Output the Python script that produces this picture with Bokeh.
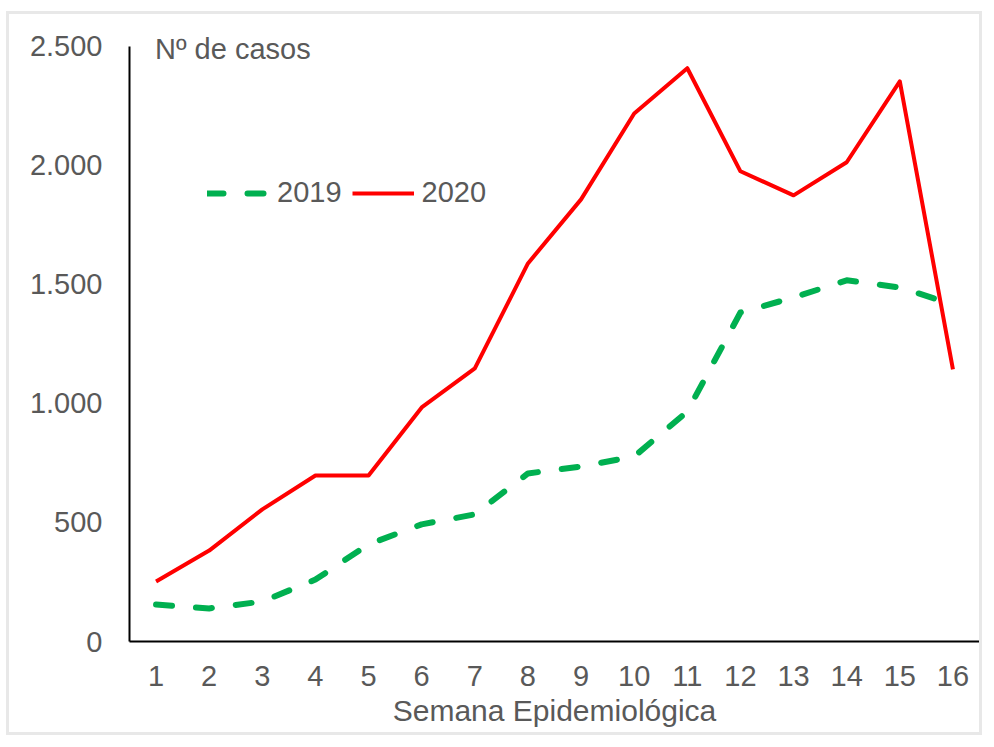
from bokeh.plotting import figure
from bokeh.models import (ColumnDataSource, Legend, LegendItem, Label, FixedTicker,
                          CustomJSTickFormatter, Range1d)
from bokeh.embed import file_html
from bokeh.resources import INLINE

semanas = list(range(1, 17))
casos_2019 = [155, 139, 168, 260, 408, 492, 534, 706, 735, 777, 966, 1382, 1445, 1517, 1487, 1416]
casos_2020 = [252, 382, 555, 697, 697, 983, 1147, 1588, 1857, 2218, 2408, 1975, 1874, 2013, 2353, 1143]
y_ticks = [0, 500, 1000, 1500, 2000, 2500]

FONT = "Liberation Sans"
GRAY = "#595959"
FS = "29px"

src = ColumnDataSource(dict(x=semanas, y19=casos_2019, y20=casos_2020))

p = figure(width=976, height=724, output_backend="svg", toolbar_location=None,
           x_range=Range1d(0.5, 16.5), y_range=Range1d(0, 2600),
           min_border_left=120, min_border_right=6, min_border_top=8, min_border_bottom=97)
p.outline_line_color = None
p.xgrid.grid_line_color = None
p.ygrid.grid_line_color = None
p.margin = (11, 0, 0, 6)
p.styles = {"border": "3px solid #e8e8e8"}

r19 = p.line("x", "y19", source=src, line_color="#00B050", line_width=6,
             line_dash="16 24", line_cap="round", line_join="round")
r20 = p.line("x", "y20", source=src, line_color="#FF0000", line_width=4,
             line_join="round")

for ax in (p.xaxis[0], p.yaxis[0]):
    ax.axis_line_color = "black"
    ax.axis_line_width = 2
    ax.major_tick_line_color = None
    ax.minor_tick_line_color = None
    ax.major_tick_out = 0
    ax.major_label_text_font = FONT
    ax.major_label_text_font_size = FS
    ax.major_label_text_color = GRAY

p.xaxis.ticker = FixedTicker(ticks=semanas)
p.xaxis.major_label_standoff = 24
p.xaxis.axis_label = "Semana Epidemiológica"
p.xaxis.axis_label_text_font = FONT
p.xaxis.axis_label_text_font_size = "30px"
p.xaxis.axis_label_text_font_style = "normal"
p.xaxis.axis_label_text_color = GRAY
p.xaxis.axis_label_standoff = 5

p.yaxis.ticker = FixedTicker(ticks=y_ticks)
p.yaxis.bounds = (0, 2500)
p.yaxis.major_label_standoff = 27
p.yaxis.formatter = CustomJSTickFormatter(
    code="return tick.toFixed(0).replace(/\\B(?=(\\d{3})+(?!\\d))/g, '.');")

p.add_layout(Label(x=0.98, y=2487, text="Nº de casos", text_font=FONT,
                   text_font_size=FS, text_color=GRAY, text_baseline="middle"))

legend = Legend(items=[LegendItem(label="2019", renderers=[r19]),
                       LegendItem(label="2020", renderers=[r20])],
                location=(78, 432), orientation="horizontal",
                label_text_font=FONT, label_text_font_size=FS, label_text_color=GRAY,
                glyph_width=62, glyph_height=24, label_height=24, label_standoff=8,
                spacing=10, padding=0, margin=0, border_line_color=None,
                background_fill_alpha=0)
p.add_layout(legend)

open("out.html", "w").write(file_html(p, INLINE))
